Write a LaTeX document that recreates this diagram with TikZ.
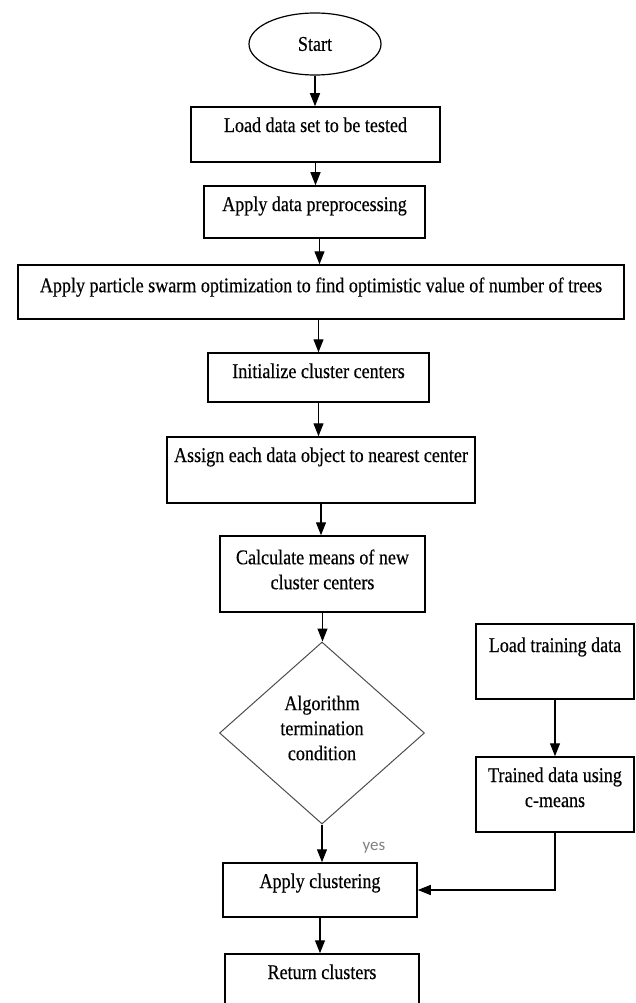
\documentclass[tikz,border=0pt]{standalone}
\usepackage{fontspec}
\setmainfont{Liberation Serif}[FakeStretch=0.86, FakeBold=0.4]
\newfontfamily\yesfont{Carlito}
\usetikzlibrary{shapes,arrows.meta,calc}

\begin{document}
\begin{tikzpicture}
  [
    x=1pt, y=-1pt,
    block/.style =
      {draw, rectangle, line width=1.5pt, inner sep=0pt},
    terminal/.style =
      {draw, ellipse, line width=1.2pt, inner sep=0pt},
    decision/.style =
      {draw=black!70, diamond, line width=1pt, inner sep=0pt},
    txt/.style =
      {font=\fontsize{21}{25}\selectfont, align=center, inner sep=0pt},
    top/.style =
      {txt, anchor=north, yshift=-11},
    flow/.style =
      {-{Triangle[length=13pt, width=10pt]}, line width=1.3pt}
  ]

\useasboundingbox (0,0) rectangle (635,1003);

% main column
\node[terminal, txt, minimum width=132, minimum height=62] (start) at (315,44) {Start};
\node[block, minimum width=249, minimum height=55,
  label={[top]north:Load data set to be tested}] (load) at (315.5,134.5) {};
\node[block, minimum width=221, minimum height=52,
  label={[top]north:Apply data preprocessing}] (prep) at (314.5,212) {};
\node[block, minimum width=606, minimum height=54,
  label={[top, yshift=-2]north:Apply particle swarm optimization to find optimistic value of number of trees}] (pso) at (321,292) {};
\node[block, minimum width=221, minimum height=49,
  label={[top]north:Initialize cluster centers}] (init) at (318.5,377.5) {};
\node[block, minimum width=308, minimum height=66,
  label={[top]north:Assign each data object to nearest center}] (assign) at (321,470) {};
\node[block, minimum width=205, minimum height=76,
  label={[top, yshift=-3]north:Calculate means of new\\cluster centers}] (means) at (322.5,574) {};
\node[decision, minimum width=205, minimum height=182,
  label={[txt, yshift=5]center:Algorithm\\termination\\condition}] (cond) at (322,733) {};
\node[block, minimum width=194, minimum height=54,
  label={[top]north:Apply clustering}] (clust) at (320,890) {};
\node[block, minimum width=194, minimum height=58,
  label={[top]north:Return clusters}] (ret) at (322,983) {};

% training branch
\node[block, minimum width=158, minimum height=75,
  label={[top, yshift=-3]north:Load training data}] (train) at (555,661.5) {};
\node[block, minimum width=158, minimum height=75,
  label={[top]north:Trained data using\\c-means}] (trained) at (555,794.5) {};

\node[font=\yesfont\fontsize{17}{19}\selectfont, text=black!50, inner sep=0pt] (yes) at (374,848) {yes};

\draw[flow] (start.south) -- (start.south |- load.north);
\draw[flow] (load.south) -- (load.south |- prep.north);
\draw[flow] ($(prep.south)+(5,0)$) -- ($(prep.south |- pso.north)+(5,0)$);
\draw[flow] (init.north |- pso.south) -- (init.north);
\draw[flow] (init.south) -- (init.south |- assign.north);
\draw[flow] (assign.south) -- (assign.south |- means.north);
\draw[flow] (means.south) -- (means.south |- cond.north);
\draw[flow] (cond.south) -- (cond.south |- clust.north);
\draw[flow] (clust.south) -- (clust.south |- ret.north);

\draw[flow] (train) -- (trained);
\draw[flow] (trained.south) |- (clust.east);

\end{tikzpicture}
\end{document}
